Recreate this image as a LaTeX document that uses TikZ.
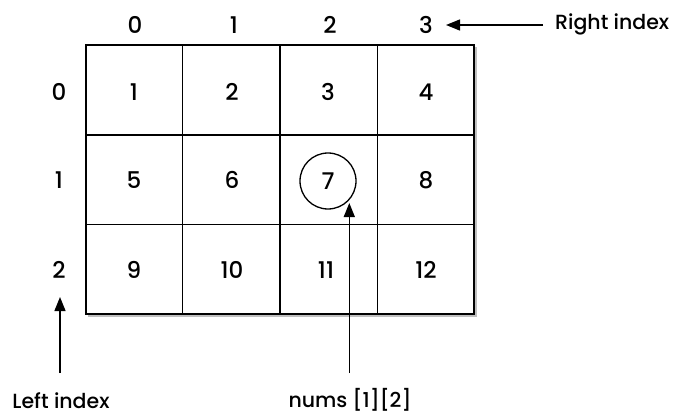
\documentclass[tikz,border=0pt]{standalone}
\usepackage{fontspec}
\setmainfont{Poppins Medium}
\usetikzlibrary{arrows.meta}
\begin{document}
\begin{tikzpicture}[x=1pt,y=-1pt,
  lbl/.style={font=\fontsize{23}{26}\selectfont, inner sep=0pt, anchor=center},
  txt/.style={font=\fontsize{20.5}{24}\selectfont, inner sep=0pt, anchor=center},
  grid/.style={line width=1.3pt},
  outer/.style={line width=1.8pt},
  arr/.style={line width=1.3pt, -{Triangle[length=14pt,width=11pt]}}]
\useasboundingbox (0,0) rectangle (673,415);
% shadow
\fill[black!25] (88,47) rectangle (476.5,316.5);
\fill[white] (86,45) rectangle (474,314);
% grid lines
\draw[grid] (182.7,45) -- (182.7,314);
\draw[grid] (280,45) -- (280,314);
\draw[grid] (377.3,45) -- (377.3,314);
\draw[grid] (86,135) -- (474,135);
\draw[grid] (86,224.3) -- (474,224.3);
\draw[outer] (86,45) rectangle (474,314);
% column labels
\node[lbl] (c0) at (135,25) {0};
\node[lbl] (c1) at (234,25) {1};
\node[lbl] (c2) at (330,25) {2};
\node[lbl] (c3) at (426,25) {3};
% row labels
\node[lbl] (r0) at (59,92) {0};
\node[lbl] (r1) at (59,180) {1};
\node[lbl] (r2) at (59,270) {2};
% cells
\node[lbl] (v1) at (134,92) {1};
\node[lbl] (v2) at (232,92) {2};
\node[lbl] (v3) at (328,92) {3};
\node[lbl] (v4) at (426,92) {4};
\node[lbl] (v5) at (134,180) {5};
\node[lbl] (v6) at (232,180) {6};
\node[lbl,draw,circle,minimum size=56pt,line width=1.3pt] (v7) at (328,181) {7};
\node[lbl] (v8) at (426,180) {8};
\node[lbl] (v9) at (134,270) {9};
\node[lbl] (v10) at (232,270) {10};
\node[lbl] (v11) at (326,270) {11};
\node[lbl] (v12) at (426,270) {12};
% labels
\node[txt, anchor=west] (ri) at (555,24) {Right index};
\node[txt] (li) at (61,401) {Left index};
\node[txt] (ni) at (350,400) {nums [1][2]};
% arrows
\coordinate (riS) at (543,25);
\coordinate (riE) at (446,25);
\draw[arr] (riS) -- (riE);
\coordinate (liS) at (60,373);
\coordinate (liE) at (60,297);
\draw[arr] (liS) -- (liE);
\coordinate (niS) at (349.3,373);
\coordinate (niE) at (349.3,203);
\draw[arr] (niS) -- (niE);
\end{tikzpicture}
\end{document}
